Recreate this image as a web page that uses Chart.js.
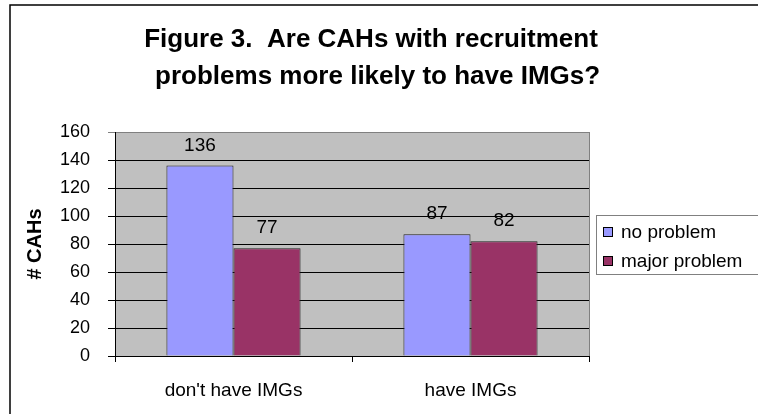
<!DOCTYPE html>
<html>
<head>
<meta charset="utf-8">
<script src="https://cdn.jsdelivr.net/npm/chart.js@4"></script>
<style>
  html, body { margin: 0; padding: 0; background: #fff; }
  #wrap { width: 758px; height: 414px; }
</style>
</head>
<body>
<div id="wrap"><canvas id="cahChart" width="758" height="414"></canvas></div>
<script>
const titleLines = ["Figure 3.  Are CAHs with recruitment", " problems more likely to have IMGs?"];
const categories = ["don't have IMGs", "have IMGs"];
const seriesNames = ["no problem", "major problem"];
const noProblem = [136, 87];
const majorProblem = [77, 82];
const yTicks = [0, 20, 40, 60, 80, 100, 120, 140, 160];
const yTitle = "# CAHs";

const fontFam = "'Liberation Sans', Arial, sans-serif";
const colors = ["#9999FF", "#993366"];

// gray plot background + frame, outer figure border
const framePlugin = {
  id: "frame",
  beforeDraw(chart) {
    const { ctx, chartArea: a } = chart;
    ctx.save();
    ctx.fillStyle = "#fff";
    ctx.fillRect(0, 0, chart.width, chart.height);
    ctx.fillStyle = "#C0C0C0";
    ctx.fillRect(a.left, a.top, a.right - a.left, a.bottom - a.top);
    ctx.strokeStyle = "#808080";
    ctx.lineWidth = 1;
    ctx.strokeRect(a.left + 0.5, a.top + 0.5, a.right - a.left, a.bottom - a.top);
    // outer border
    ctx.strokeStyle = "#000";
    ctx.lineWidth = 1.5;
    ctx.beginPath();
    ctx.moveTo(10, chart.height);
    ctx.lineTo(10, 5);
    ctx.lineTo(chart.width, 5);
    ctx.stroke();
    ctx.restore();
  }
};

// title, value labels and legend box
const extrasPlugin = {
  id: "extras",
  afterDraw(chart) {
    const ctx = chart.ctx;
    ctx.save();
    ctx.fillStyle = "#000";
    ctx.textAlign = "center";
    ctx.textBaseline = "alphabetic";
    ctx.font = "bold 26px " + fontFam;
    ctx.fillText(titleLines[0], 371, 47);
    ctx.fillText(titleLines[1], 374, 84);

    ctx.font = "19px " + fontFam;
    ctx.textBaseline = "middle";
    chart.data.datasets.forEach((ds, i) => {
      chart.getDatasetMeta(i).data.forEach((bar, j) => {
        ctx.fillText(String(ds.data[j]), bar.x, bar.y - 20);
      });
    });

    // legend
    ctx.strokeStyle = "#808080";
    ctx.lineWidth = 1;
    ctx.strokeRect(596.5, 215.5, 170, 59);
    ctx.textAlign = "left";
    const rows = [232, 261];
    seriesNames.forEach((name, i) => {
      ctx.fillStyle = colors[i];
      ctx.fillRect(603, rows[i] - 5, 10, 10);
      ctx.strokeStyle = "#000";
      ctx.strokeRect(603.5, rows[i] - 4.5, 9, 9);
      ctx.fillStyle = "#000";
      ctx.fillText(name, 621, rows[i] + 1);
    });
    ctx.restore();
  }
};

new Chart(document.getElementById("cahChart"), {
  type: "bar",
  data: {
    labels: categories,
    datasets: [
      { label: seriesNames[0], data: noProblem, backgroundColor: colors[0], borderColor: "#222", borderWidth: 1 },
      { label: seriesNames[1], data: majorProblem, backgroundColor: colors[1], borderColor: "#222", borderWidth: 1 }
    ]
  },
  options: {
    responsive: false,
    animation: false,
    events: [],
    layout: { padding: { left: 0, right: 169, top: 132, bottom: 0 } },
    datasets: { bar: { categoryPercentage: 0.566, barPercentage: 1.0 } },
    plugins: {
      legend: { display: false },
      title: { display: false },
      tooltip: { enabled: false }
    },
    scales: {
      x: {
        afterFit(scale) { scale.height = 58; },
        grid: { offset: true, drawOnChartArea: false, drawTicks: true, tickLength: 6, color: "#000" },
        border: { color: "#000", width: 1 },
        ticks: { color: "#000", padding: 17, font: { family: fontFam, size: 19 } }
      },
      y: {
        min: 0,
        max: 160,
        afterFit(scale) { scale.width = 115; },
        afterBuildTicks(scale) { scale.ticks = yTicks.map(v => ({ value: v })); },
        grid: {
          color: ctx => (ctx.tick && ctx.tick.value === 160 ? "#808080" : "#000"),
          lineWidth: 1,
          tickLength: 7,
          drawTicks: true
        },
        border: { color: "#000", width: 1 },
        ticks: { color: "#000", padding: 18, font: { family: fontFam, size: 18 } },
        title: {
          display: true,
          text: yTitle,
          color: "#000",
          font: { family: fontFam, size: 20, weight: "bold" },
          padding: { top: 23, bottom: 0 }
        }
      }
    }
  },
  plugins: [framePlugin, extrasPlugin]
});
</script>
</body>
</html>
